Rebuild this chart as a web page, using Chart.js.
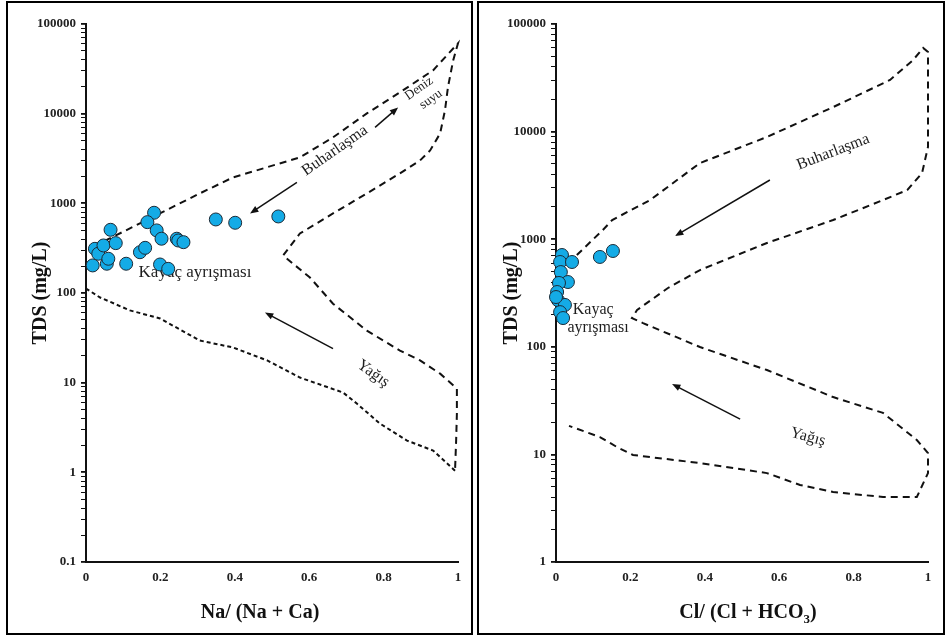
<!DOCTYPE html>
<html>
<head>
<meta charset="utf-8">
<script src="https://cdn.jsdelivr.net/npm/chart.js@4.4.1/dist/chart.umd.min.js"></script>
<style>
  body { margin: 0; background: #fff; }
  #page { position: relative; width: 946px; height: 638px; overflow: hidden; }
  .frame { position: absolute; border: 2px solid #000; box-sizing: border-box; }
  .box { position: absolute; }
</style>
</head>
<body>
<div id="page">
  <div class="frame" style="left:6px;top:1px;width:467px;height:634px"></div>
  <div class="frame" style="left:477px;top:1px;width:468px;height:634px"></div>
  <div class="box" style="left:8px;top:3px;width:462px;height:630px"><canvas id="naChart" width="462" height="630"></canvas></div>
  <div class="box" style="left:480px;top:3px;width:462px;height:630px"><canvas id="clChart" width="462" height="630"></canvas></div>
</div>
<script>
//DATA: samples
const naRatio = [0.018, 0.024, 0.033, 0.047, 0.056, 0.060, 0.066, 0.080, 0.108, 0.145, 0.159, 0.183, 0.165, 0.190, 0.203, 0.199, 0.221, 0.244, 0.248, 0.262, 0.349, 0.401, 0.517];
const tdsNa = [203, 311, 274, 339, 212, 241, 507, 360, 212, 285, 319, 785, 617, 499, 403, 208, 186, 403, 385, 369, 661, 607, 714];

const clRatio = [0.016, 0.011, 0.043, 0.118, 0.153, 0.013, 0.032, 0.008, 0.003, 0.005, 0.024, 0.011, 0.019, 0.000];
const tdsCl = [713, 614, 614, 684, 777, 495, 400, 392, 323, 272, 245, 210, 185, 290];

//DATA: Gibbs boundaries
const naOuterX = [0.05, 0.306, 0.395, 0.575, 0.664, 0.755, 0.844, 0.933, 1.0, 0.987, 0.973, 0.965, 0.952, 0.925, 0.898, 0.844, 0.755, 0.664, 0.575, 0.530, 0.556, 0.602, 0.664, 0.755, 0.844, 0.898, 0.952, 0.997, 0.997, 0.995, 0.992];
const naOuterY = [380, 1290, 1945, 3250, 5440, 10070, 17300, 30400, 61000, 39300, 19700, 10900, 6030, 3890, 3010, 2160, 1290, 771, 461, 262, 213, 149, 76, 38, 22.8, 17.7, 12.6, 8.6, 4.5, 2.26, 1.04];
const naLowerX = [0.992, 0.933, 0.863, 0.790, 0.728, 0.691, 0.575, 0.487, 0.395, 0.306, 0.199, 0.118, 0.038, 0];
const naLowerY = [1.04, 1.75, 2.26, 3.5, 5.85, 7.76, 11.4, 17.7, 24.7, 29.5, 52, 64, 89, 112];

const clOuterX = [0.056, 0.126, 0.151, 0.253, 0.387, 0.567, 0.745, 0.898, 0.96, 0.987, 1.0, 1.0, 1.0, 1.0, 0.984, 0.944, 0.879, 0.745, 0.567, 0.387, 0.301, 0.218, 0.204, 0.234, 0.387, 0.567, 0.745, 0.879, 0.97, 1.0, 1.0, 0.97, 0.879, 0.745, 0.656, 0.567, 0.387, 0.207, 0.164, 0.118, 0.035];
const clOuterY = [713, 1218, 1507, 2313, 5100, 8910, 16900, 30200, 46300, 59800, 54900, 39800, 19700, 7200, 4120, 2860, 2310, 1507, 922, 517, 352, 220, 185, 166, 99.5, 60.8, 34.1, 24.3, 13.6, 10.3, 6.7, 4.02, 4.02, 4.47, 5.2, 6.7, 8.3, 9.87, 11.7, 14.5, 18.4];

//DATA: arrows [fromX, fromY, toX, toY]
const naArrows = [[0.567, 1710, 0.441, 771], [0.777, 7030, 0.839, 11750], [0.664, 24, 0.481, 60.7]];
const clArrows = [[0.575, 3550, 0.320, 1070], [0.495, 21.3, 0.312, 45.1]];

//DATA: ticks
const xTickValues = [0, 0.2, 0.4, 0.6, 0.8, 1];
const xTickLabels = ['0', '0.2', '0.4', '0.6', '0.8', '1'];
const naDecades = [0.1, 1, 10, 100, 1000, 10000, 100000];
const naDecadeLabels = ['0.1', '1', '10', '100', '1000', '10000', '100000'];
const clDecades = [1, 10, 100, 1000, 10000, 100000];
const clDecadeLabels = ['1', '10', '100', '1000', '10000', '100000'];

//NOTES placed in data units
const naNotes = [
  {text: 'Buharlaşma', x: 0.669, y: 3870, angle: -35, size: 16},
  {text: 'Deniz', x: 0.895, y: 19100, angle: -35, size: 13},
  {text: 'suyu', x: 0.927, y: 14450, angle: -35, size: 13},
  {text: 'Yağış', x: 0.772, y: 12.6, angle: 35, size: 16},
  {text: 'Kayaç ayrışması', x: 0.293, y: 169, angle: 0, size: 17}
];
const clNotes = [
  {text: 'Buharlaşma', x: 0.745, y: 6460, angle: -21, size: 16},
  {text: 'Yağış', x: 0.677, y: 14.5, angle: 15, size: 16},
  {text: 'Kayaç', x: 0.100, y: 220, angle: 0, size: 16},
  {text: 'ayrışması', x: 0.113, y: 150, angle: 0, size: 16}
];

const SERIF = "'Liberation Serif', 'Times New Roman', serif";
const toPoints = (xs, ys) => xs.map((x, i) => ({x: x, y: ys[i]}));

function drawArrow(ctx, x1, y1, x2, y2) {
  const ang = Math.atan2(y2 - y1, x2 - x1);
  const head = 9;
  ctx.beginPath();
  ctx.moveTo(x1, y1);
  ctx.lineTo(x2 - Math.cos(ang) * head * 0.8, y2 - Math.sin(ang) * head * 0.8);
  ctx.stroke();
  ctx.beginPath();
  ctx.moveTo(x2, y2);
  ctx.lineTo(x2 - head * Math.cos(ang - 0.38), y2 - head * Math.sin(ang - 0.38));
  ctx.lineTo(x2 - head * Math.cos(ang + 0.38), y2 - head * Math.sin(ang + 0.38));
  ctx.closePath();
  ctx.fill();
}

// arrows, notes and the x axis title (with subscript parts)
const notesPlugin = {
  id: 'notes',
  beforeDatasetsDraw(chart, args, opts) {
    const {ctx, scales: {x, y}} = chart;
    ctx.save();
    ctx.fillStyle = '#1e1e1e';
    ctx.textAlign = 'center';
    ctx.textBaseline = 'middle';
    opts.notes.forEach(n => {
      ctx.save();
      ctx.translate(x.getPixelForValue(n.x), y.getPixelForValue(n.y));
      ctx.rotate(n.angle * Math.PI / 180);
      ctx.font = n.size + 'px ' + SERIF;
      ctx.fillText(n.text, 0, 0);
      ctx.restore();
    });
    ctx.strokeStyle = '#111';
    ctx.fillStyle = '#111';
    ctx.lineWidth = 1.5;
    opts.arrows.forEach(a => {
      drawArrow(ctx, x.getPixelForValue(a[0]), y.getPixelForValue(a[1]), x.getPixelForValue(a[2]), y.getPixelForValue(a[3]));
    });
    ctx.restore();
  },
  afterDraw(chart, args, opts) {
    const {ctx, chartArea} = chart;
    ctx.save();
    ctx.fillStyle = '#111';
    ctx.textBaseline = 'alphabetic';
    ctx.textAlign = 'left';
    const big = 'bold 20px ' + SERIF;
    const small = 'bold 13px ' + SERIF;
    let total = 0;
    opts.title.forEach(part => {
      ctx.font = part.sub ? small : big;
      total += ctx.measureText(part.text).width;
    });
    let cx = chartArea.left + opts.titleOffset - total / 2;
    const baseY = 615;
    opts.title.forEach(part => {
      ctx.font = part.sub ? small : big;
      ctx.fillText(part.text, cx, part.sub ? baseY + 5 : baseY);
      cx += ctx.measureText(part.text).width;
    });
    ctx.restore();
  }
};

function makePanel(id, cfg) {
  const lines = cfg.lines.map(l => ({
    data: l.data,
    showLine: true,
    pointRadius: 0,
    borderColor: '#111',
    borderWidth: 2,
    borderDash: l.dash,
    fill: false,
    tension: 0,
    clip: false,
    order: 1
  }));
  return new Chart(document.getElementById(id), {
    type: 'scatter',
    data: {
      datasets: [{
        data: cfg.points,
        backgroundColor: '#14abe6',
        borderColor: '#1c2a36',
        borderWidth: 1,
        pointRadius: 6.5,
        pointHoverRadius: 6.5,
        clip: false,
        order: 0
      }].concat(lines)
    },
    options: {
      responsive: false,
      animation: false,
      devicePixelRatio: 1,
      layout: { padding: { top: 21, right: cfg.padRight, left: 0, bottom: 0 } },
      plugins: {
        legend: { display: false },
        tooltip: { enabled: false },
        notes: { notes: cfg.notes, arrows: cfg.arrows, title: cfg.xTitle, titleOffset: cfg.titleOffset }
      },
      scales: {
        x: {
          type: 'linear',
          min: 0,
          max: 1,
          afterBuildTicks: scale => { scale.ticks = xTickValues.map(v => ({value: v})); },
          afterFit: scale => { scale.height = 71; },
          ticks: {
            callback: v => xTickLabels[xTickValues.indexOf(v)],
            font: { family: SERIF, size: 13, weight: 'bold' },
            color: '#222',
            padding: 8,
            maxRotation: 0,
            autoSkip: false
          },
          grid: { display: false, drawTicks: false },
          border: { color: '#111', width: 2 }
        },
        y: {
          type: 'logarithmic',
          min: cfg.decades[0],
          max: cfg.decades[cfg.decades.length - 1],
          afterBuildTicks: scale => {
            const ticks = [];
            cfg.decades.forEach((d, i) => {
              ticks.push({value: d, major: true});
              if (i < cfg.decades.length - 1) {
                for (let m = 2; m <= 9; m++) ticks.push({value: d * m, major: false});
              }
            });
            scale.ticks = ticks;
          },
          afterFit: scale => { scale.width = cfg.yWidth; },
          ticks: {
            callback: v => {
              const i = cfg.decades.indexOf(v);
              return i >= 0 ? cfg.decadeLabels[i] : '';
            },
            font: { family: SERIF, size: 13, weight: 'bold' },
            color: '#222',
            padding: 5,
            autoSkip: false
          },
          grid: {
            drawOnChartArea: false,
            drawTicks: true,
            tickLength: 5,
            color: '#111',
            lineWidth: ctx => (ctx.tick && ctx.tick.major ? 1.8 : 1)
          },
          border: { color: '#111', width: 2 },
          title: {
            display: true,
            text: 'TDS (mg/L)',
            color: '#111',
            font: { family: SERIF, size: 20, weight: 'bold' },
            padding: { top: cfg.titlePad, bottom: 0 }
          }
        }
      }
    },
    plugins: [notesPlugin]
  });
}

makePanel('naChart', {
  points: toPoints(naRatio, tdsNa),
  lines: [
    { data: toPoints(naOuterX, naOuterY), dash: [7, 5] },
    { data: toPoints(naLowerX, naLowerY), dash: [4, 3] }
  ],
  decades: naDecades,
  decadeLabels: naDecadeLabels,
  notes: naNotes,
  arrows: naArrows,
  xTitle: [{text: 'Na/ (Na + Ca)'}],
  titleOffset: 174,
  yWidth: 78,
  padRight: 12,
  titlePad: 21
});

makePanel('clChart', {
  points: toPoints(clRatio, tdsCl),
  lines: [
    { data: toPoints(clOuterX, clOuterY), dash: [7, 5] }
  ],
  decades: clDecades,
  decadeLabels: clDecadeLabels,
  notes: clNotes,
  arrows: clArrows,
  xTitle: [{text: 'Cl/ (Cl + HCO'}, {text: '3', sub: true}, {text: ')'}],
  titleOffset: 192,
  yWidth: 76,
  padRight: 14,
  titlePad: 20
});
</script>
</body>
</html>
